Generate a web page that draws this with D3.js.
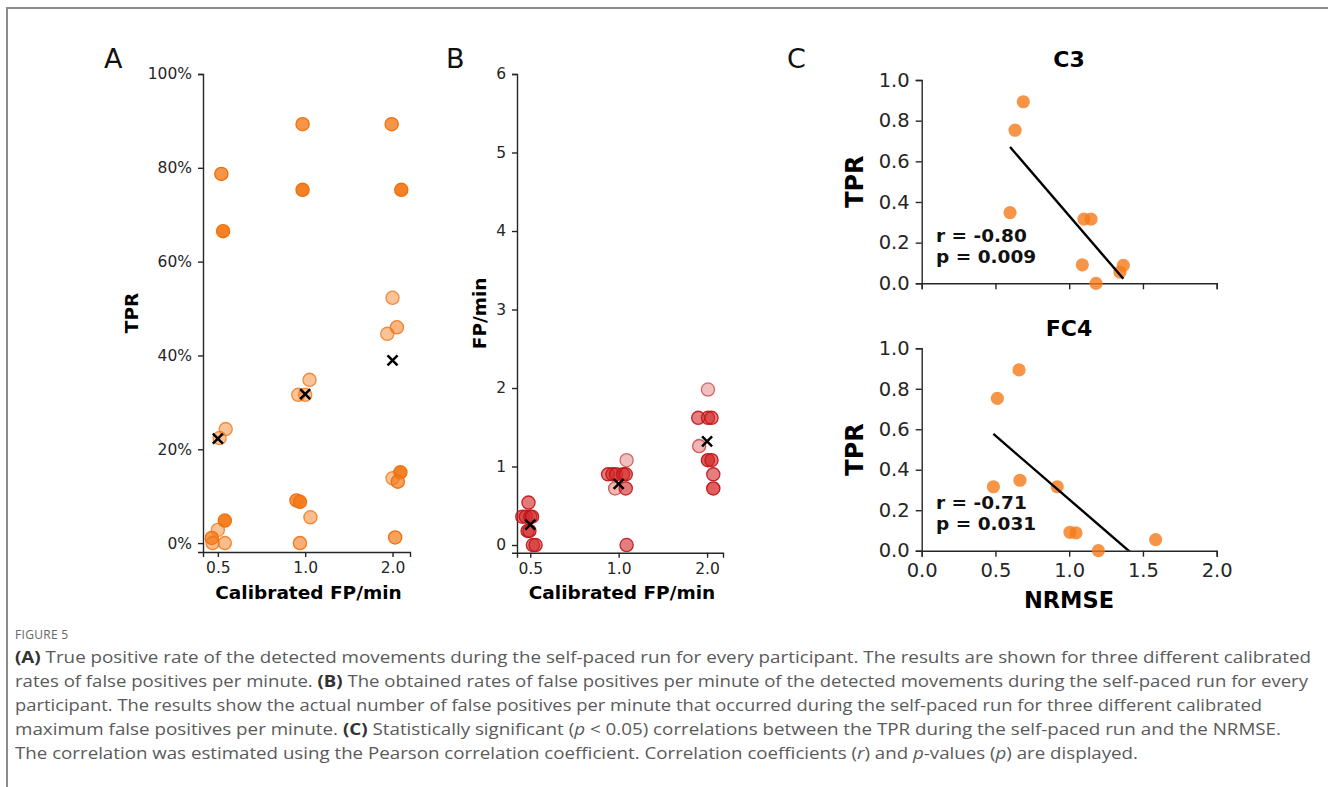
<!DOCTYPE html>
<html>
<head>
<meta charset="utf-8">
<script src="https://cdn.jsdelivr.net/npm/d3@7"></script>
<style>
  body { margin: 0; background: #fff; }
  svg { display: block; font-family: "DejaVu Sans", sans-serif; }
  .axis path, .axis line { stroke: #262626; stroke-width: 1.4; }
  .axis text { fill: #262626; font-family: "DejaVu Sans", sans-serif; }
</style>
</head>
<body>
<div id="chart"></div>
<script>
// calibrated FP/min categories
const fpCats = ["0.5", "1.0", "2.0"];

// panel A: TPR (%) per participant at each calibrated FP/min
const tprA05 = [78.7, 66.5, 24.3, 22.4, 4.8, 2.8, 1.1, 0, 0];
const tprA10 = [89.3, 75.3, 34.8, 31.6, 31.6, 9.1, 8.8, 5.5, 0];
const tprA20 = [89.3, 75.3, 52.3, 46.0, 44.6, 15.1, 13.8, 13.1, 1.2];
// strip jitter (category units) and shade per point
const jitA = [[0.04, 0.06, 0.09, 0.02, 0.08, 0.0, -0.07, -0.06, 0.08],
              [-0.03, -0.03, 0.05, -0.08, 0.0, -0.1, -0.06, 0.06, -0.06],
              [-0.01, 0.10, 0.0, 0.05, -0.06, 0.09, 0.0, 0.06, 0.03]];
const shadeA = [[.8, .95, .45, .45, .95, .45, .75, .5, .5],
                [.8, .95, .45, .45, .45, .8, .95, .5, .6],
                [.8, .95, .45, .55, .45, .95, .45, .7, .7]];

// panel B: observed FP/min per participant
const fpB05 = [0.54, 0.36, 0.36, 0.36, 0.36, 0.18, 0.18, 0, 0];
const fpB10 = [1.08, 0.9, 0.9, 0.9, 0.9, 0.9, 0.72, 0.72, 0];
const fpB20 = [1.98, 1.62, 1.62, 1.62, 1.26, 1.08, 1.08, 0.9, 0.72];
const jitB = [[-0.02, -0.09, -0.05, 0.0, 0.02, -0.03, -0.01, 0.03, 0.06],
              [0.09, -0.12, -0.07, -0.03, 0.05, 0.08, -0.04, 0.08, 0.09],
              [0.01, -0.10, 0.01, 0.05, -0.09, 0.01, 0.05, 0.07, 0.07]];
const shadeB = [[.62, .62, .62, .62, .62, .62, .62, .62, .62],
                [.3, .62, .62, .62, .62, .62, .35, .62, .6],
                [.3, .6, .6, .6, .35, .75, .65, .6, .75]];

// panel C: NRMSE vs TPR
const nrmseC3 = [0.689, 0.633, 0.599, 1.100, 1.148, 1.089, 1.182, 1.367, 1.344];
const tprC3 = [0.893, 0.753, 0.348, 0.316, 0.316, 0.091, 0.0, 0.088, 0.055];
const nrmseFC4 = [0.660, 0.513, 0.486, 0.666, 0.919, 1.005, 1.046, 1.198, 1.586];
const tprFC4 = [0.893, 0.753, 0.316, 0.348, 0.316, 0.091, 0.088, 0.0, 0.055];
const statsC3 = ["r = -0.80", "p = 0.009"];
const statsFC4 = ["r = -0.71", "p = 0.031"];

const orange = "#f47a1a";
const red = "#d42a2a";

const svg = d3.select("#chart").append("svg")
  .attr("width", 1328).attr("height", 787);

// figure frame
svg.append("rect")
  .attr("x", 7).attr("y", 8).attr("width", 1400).attr("height", 900)
  .attr("fill", "none").attr("stroke", "#8c8c8c").attr("stroke-width", 2);

function panelLetter(t, x) {
  svg.append("text").attr("x", x).attr("y", 68)
    .attr("font-size", 27).attr("fill", "#111").text(t);
}
panelLetter("A", 104);
panelLetter("B", 446);
panelLetter("C", 787);

function crossMark(g, cx, cy) {
  g.append("path")
    .attr("d", `M${cx - 5},${cy - 5}L${cx + 5},${cy + 5}M${cx - 5},${cy + 5}L${cx + 5},${cy - 5}`)
    .attr("stroke", "#000").attr("stroke-width", 2.5);
}

function stripPanel(opts) {
  const g = svg.append("g");
  const x = d3.scaleLinear().domain(opts.xDom).range(opts.xRange);
  const y = d3.scaleLinear().domain(opts.yDom).range(opts.yRange);

  g.append("g").attr("class", "axis")
    .attr("transform", `translate(0,${opts.yRange[0]})`)
    .call(d3.axisBottom(x).tickValues([0, 1, 2]).tickFormat(i => fpCats[i])
      .tickSizeOuter(0).tickSize(5).tickPadding(5))
    .selectAll("text").attr("font-size", 15.5);
  g.append("g").attr("class", "axis")
    .attr("transform", `translate(${opts.xRange[0]},0)`)
    .call(d3.axisLeft(y).tickValues(opts.ticks).tickFormat(opts.fmt)
      .tickSizeOuter(0).tickSize(5).tickPadding(6))
    .selectAll("text").attr("font-size", 15.5);

  opts.series.forEach((vals, ci) => {
    g.append("g").selectAll("circle")
      .data(vals)
      .join("circle")
      .attr("cx", (d, i) => x(ci + opts.jit[ci][i]))
      .attr("cy", d => y(opts.val(d)))
      .attr("r", 6.6)
      .attr("fill", opts.color)
      .attr("fill-opacity", (d, i) => opts.shade[ci][i])
      .attr("stroke", opts.edge)
      .attr("stroke-opacity", (d, i) => Math.min(1, opts.shade[ci][i] + 0.3))
      .attr("stroke-width", 1.3);
    crossMark(g, x(ci), y(opts.val(d3.mean(vals))));
  });

  g.append("text")
    .attr("x", (opts.xRange[0] + opts.xRange[1]) / 2 + 2).attr("y", 599)
    .attr("text-anchor", "middle").attr("font-size", 18.5).attr("font-weight", "bold")
    .text("Calibrated FP/min");
  g.append("text")
    .attr("transform", `translate(${opts.yLabelX},${(opts.yRange[0] + opts.yRange[1]) / 2}) rotate(-90)`)
    .attr("text-anchor", "middle").attr("font-size", 18.5).attr("font-weight", "bold")
    .text(opts.yLabel);
}

stripPanel({
  xDom: [-0.17, 2.2], xRange: [203, 410],
  yDom: [-0.019, 1.0], yRange: [552, 74],
  ticks: [0, 0.2, 0.4, 0.6, 0.8, 1.0], fmt: d3.format(".0%"),
  series: [tprA05, tprA10, tprA20], val: d => d / 100,
  jit: jitA, shade: shadeA, color: orange, edge: "#f0700c",
  yLabel: "TPR", yLabelX: 138
});

stripPanel({
  xDom: [-0.15, 2.18], xRange: [517, 723],
  yDom: [-0.098, 6], yRange: [552.7, 74],
  ticks: [0, 1, 2, 3, 4, 5, 6], fmt: d3.format("d"),
  series: [fpB05, fpB10, fpB20], val: d => d,
  jit: jitB, shade: shadeB, color: red, edge: "#bf1518",
  yLabel: "FP/min", yLabelX: 486
});

function corrPanel(opts) {
  const g = svg.append("g");
  const x = d3.scaleLinear().domain([0, 2]).range([921.7, 1216.7]);
  const y = d3.scaleLinear().domain([0, 1]).range(opts.yRange);
  const id = "clip" + opts.title;

  svg.append("clipPath").attr("id", id).append("rect")
    .attr("x", x(0)).attr("y", y(1)).attr("width", x(2) - x(0)).attr("height", y(0) - y(1));

  const xa = g.append("g").attr("class", "axis")
    .attr("transform", `translate(0,${opts.yRange[0]})`)
    .call(d3.axisBottom(x).tickValues([0, 0.5, 1, 1.5, 2]).tickFormat(d3.format(".1f"))
      .tickSizeOuter(0).tickSize(6).tickPadding(6));
  xa.selectAll("text").attr("font-size", 19.5);
  if (!opts.xLabels) xa.selectAll("text").remove();

  g.append("g").attr("class", "axis")
    .attr("transform", `translate(${x(0)},0)`)
    .call(d3.axisLeft(y).tickValues([0, 0.2, 0.4, 0.6, 0.8, 1.0]).tickFormat(d3.format(".1f"))
      .tickSizeOuter(0).tickSize(6).tickPadding(6))
    .selectAll("text").attr("font-size", 19.5);

  const pts = opts.xs.map((v, i) => ({ x: v, y: opts.ys[i] }));
  g.append("g").selectAll("circle")
    .data(pts)
    .join("circle")
    .attr("cx", d => x(d.x))
    .attr("cy", d => y(d.y))
    .attr("r", 6.6)
    .attr("fill", orange)
    .attr("fill-opacity", 0.8);

  // least squares fit over the observed NRMSE range
  const mx = d3.mean(opts.xs), my = d3.mean(opts.ys);
  const slope = d3.sum(pts, d => (d.x - mx) * (d.y - my)) / d3.sum(pts, d => (d.x - mx) ** 2);
  const ext = d3.extent(opts.xs);
  const fit = ext.map(v => [v, my + slope * (v - mx)]);
  g.append("path")
    .attr("clip-path", `url(#${id})`)
    .attr("d", d3.line().x(d => x(d[0])).y(d => y(d[1]))(fit))
    .attr("fill", "none").attr("stroke", "#000").attr("stroke-width", 2.4);

  g.append("text").attr("x", 1069).attr("y", opts.titleY)
    .attr("text-anchor", "middle").attr("font-size", 22).attr("font-weight", "bold")
    .text(opts.title);
  g.append("text")
    .attr("transform", `translate(863,${(opts.yRange[0] + opts.yRange[1]) / 2}) rotate(-90)`)
    .attr("text-anchor", "middle").attr("font-size", 24).attr("font-weight", "bold")
    .text("TPR");
  opts.stats.forEach((s, i) => {
    g.append("text").attr("x", 936).attr("y", opts.statsY + i * 21.5)
      .attr("font-size", 18.5).attr("font-weight", "bold").attr("fill", "#111").text(s);
  });
  if (opts.xLabels) {
    g.append("text").attr("x", 1069).attr("y", 608)
      .attr("text-anchor", "middle").attr("font-size", 22.5).attr("font-weight", "bold")
      .text("NRMSE");
  }
}

corrPanel({ title: "C3", titleY: 67, yRange: [283.3, 80], xs: nrmseC3, ys: tprC3,
  stats: statsC3, statsY: 241.5, xLabels: false });
corrPanel({ title: "FC4", titleY: 335.5, yRange: [550.7, 348.3], xs: nrmseFC4, ys: tprFC4,
  stats: statsFC4, statsY: 508.5, xLabels: true });

// caption
svg.append("text").attr("x", 15).attr("y", 639)
  .attr("font-family", "Open Sans, sans-serif").attr("font-size", 12)
  .attr("fill", "#666").attr("letter-spacing", 0.3).text("FIGURE 5");

const captionLines = [
  [["(A)", "b"], [" True positive rate of the detected movements during the self-paced run for every participant. The results are shown for three different calibrated", ""]],
  [["rates of false positives per minute. ", ""], ["(B)", "b"], [" The obtained rates of false positives per minute of the detected movements during the self-paced run for every", ""]],
  [["participant. The results show the actual number of false positives per minute that occurred during the self-paced run for three different calibrated", ""]],
  [["maximum false positives per minute. ", ""], ["(C)", "b"], [" Statistically significant (", ""], ["p", "i"], [" < 0.05) correlations between the TPR during the self-paced run and the NRMSE.", ""]],
  [["The correlation was estimated using the Pearson correlation coefficient. Correlation coefficients (", ""], ["r", "i"], [") and ", ""], ["p", "i"], ["-values (", ""], ["p", "i"], [") are displayed.", ""]]
];
const captionEnds = [1311, 1308, 1262, 1281, 1138];

captionLines.forEach((parts, li) => {
  const t = svg.append("text").attr("x", 15).attr("y", 663 + li * 24)
    .attr("font-family", "Open Sans, sans-serif").attr("font-size", 16.5)
    .attr("fill", "#5a5a5a")
    .attr("textLength", captionEnds[li] - 15).attr("lengthAdjust", "spacingAndGlyphs");
  parts.forEach(([s, st]) => {
    const ts = t.append("tspan").text(s);
    if (st === "b") ts.attr("font-weight", "bold").attr("fill", "#333");
    if (st === "i") ts.attr("font-style", "italic");
  });
});
</script>
</body>
</html>
